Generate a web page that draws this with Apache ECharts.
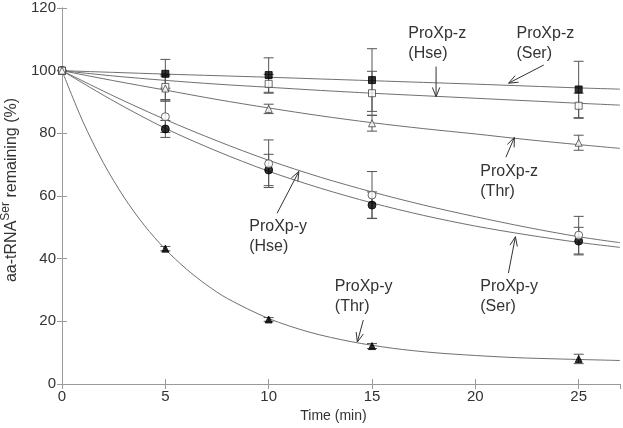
<!DOCTYPE html>
<html>
<head>
<meta charset="utf-8">
<script src="https://cdn.jsdelivr.net/npm/echarts@6/dist/echarts.min.js"></script>
<style>
html,body{margin:0;padding:0;background:#fff;}
#chart{width:623px;height:428px;}
</style>
</head>
<body>
<div id="chart"></div>
<script>
// ---- measured points (time in min, % remaining, ± error) ----
const times = [0, 5, 10, 15, 25];
const serZ = [100, 99.0, 98.6, 97.0, 94.0];
const serZErr = [0, 4.6, 5.5, 10, 9];
const hseZ = [100, 94.8, 95.8, 92.8, 88.8];
const hseZErr = [0, 4.0, 3.0, 7.0, 4.0];
const thrZ = [100, 94.3, 87.8, 83.2, 77.0];
const thrZErr = [0, 4.0, 1.5, 2.5, 2.4];
const hseY = [100, 85.3, 70.3, 60.3, 47.5];
const hseYErr = [0, 5.0, 7.6, 7.5, 6.0];
const serY = [100, 81.4, 68.3, 57.1, 45.6];
const serYErr = [0, 2.7, 5.0, 4.2, 4.4];
const thrY = [100, 43.2, 20.6, 12.1, 8.0];
const thrYErr = [0, 0.7, 0.6, 0.8, 1.5];

// ---- fitted curves ----
const fitT = [0, 2.5, 5, 7.5, 10, 12.5, 15, 17.5, 20, 22.5, 25, 27];
const fitSerZ = [100, 99.45, 98.9, 98.4, 97.9, 97.35, 96.8, 96.25, 95.7, 95.1, 94.5, 94.1];
const fitHseZ = [100, 98.3, 96.9, 95.7, 94.7, 93.7, 92.8, 92.0, 91.2, 90.4, 89.6, 89.0];
const fitThrZ = [100, 96.8, 93.8, 90.8, 88.1, 85.6, 83.4, 81.5, 79.8, 78.0, 76.4, 75.2];
const fitHseY = [100, 91.9, 84.4, 77.6, 71.4, 66.0, 61.3, 57.1, 53.4, 50.0, 47.0, 45.1];
const fitSerY = [100, 90.3, 81.6, 74.3, 67.9, 62.5, 57.8, 53.8, 50.4, 47.6, 45.2, 43.6];
const fitThrYT = [0, 1, 2, 3, 4, 5, 6, 7, 8, 10, 12, 14, 16, 18, 20, 22, 24, 27];
const fitThrY = [100, 83.9, 70.6, 59.6, 50.5, 43.0, 36.8, 31.6, 27.3, 20.9, 16.5, 13.5, 11.4, 10.0, 9.1, 8.4, 8.0, 7.5];

// ---- axis ticks ----
const xTicks = [0, 5, 10, 15, 20, 25];
const yTicks = [0, 20, 40, 60, 80, 100, 120];

// ---- annotations (label anchor, arrow start, arrow tip in data units) ----
const annTexts = ['ProXp-z\n(Hse)', 'ProXp-z\n(Ser)', 'ProXp-z\n(Thr)', 'ProXp-y\n(Hse)', 'ProXp-y\n(Ser)', 'ProXp-y\n(Thr)'];
const annLabelPos = [[16.76, 108.5], [21.99, 108.5], [20.24, 64.5], [9.06, 47.2], [20.24, 27.8], [13.2, 27.8]];
const annArrowStart = [[18.1, 101.3], [23.31, 101.8], [21.48, 72.4], [10.41, 54.5], [21.6, 35.4], [14.58, 20.4]];
const annArrowTip = [[18.1, 91.7], [21.61, 96.0], [21.89, 78.7], [11.46, 67.8], [21.94, 47.0], [14.29, 13.4]];

const FONT = '"Liberation Sans", Arial, Helvetica, sans-serif';
const AXIS_COLOR = '#9a9a9a';
const TEXT_COLOR = '#333';

function pts(xs, ys) { return xs.map((x, i) => [x, ys[i]]); }
function errPts(xs, ys, es) { return xs.map((x, i) => [x, ys[i], es[i]]); }

function fitSeries(xs, ys) {
  return {
    type: 'line', data: pts(xs, ys), showSymbol: false, smooth: 0.3,
    lineStyle: { color: '#707070', width: 1 }, silent: true, z: 2, animation: false
  };
}
function markerSeries(ys, symbol, filled, size) {
  return {
    type: 'scatter', data: pts(times, ys), symbol: symbol, symbolSize: size || 7,
    itemStyle: { color: filled ? '#000' : '#fff', borderColor: filled ? '#000' : '#444', borderWidth: 1 },
    z: 5, animation: false
  };
}
function errorSeries(ys, es) {
  return {
    type: 'custom', data: errPts(times, ys, es), z: 3, animation: false, silent: true,
    renderItem: function (params, api) {
      const t = api.value(0), v = api.value(1), e = api.value(2);
      if (!e) return null;
      const hi = api.coord([t, v + e]);
      const lo = api.coord([t, v - e]);
      const w = 5;
      const st = { stroke: '#555', lineWidth: 1 };
      return {
        type: 'group', children: [
          { type: 'line', shape: { x1: hi[0], y1: hi[1], x2: lo[0], y2: lo[1] }, style: st },
          { type: 'line', shape: { x1: hi[0] - w, y1: hi[1], x2: hi[0] + w, y2: hi[1] }, style: st },
          { type: 'line', shape: { x1: lo[0] - w, y1: lo[1], x2: lo[0] + w, y2: lo[1] }, style: st }
        ]
      };
    }
  };
}

const annData = annTexts.map((_, i) => [annLabelPos[i][0], annLabelPos[i][1], annArrowStart[i][0], annArrowStart[i][1], annArrowTip[i][0], annArrowTip[i][1]]);

const annSeries = {
  type: 'custom', data: annData, z: 6, animation: false, silent: true, clip: false,
  renderItem: function (params, api) {
    const i = params.dataIndex;
    const p = api.coord([api.value(0), api.value(1)]);
    const s = api.coord([api.value(2), api.value(3)]);
    const e = api.coord([api.value(4), api.value(5)]);
    const ang = Math.atan2(e[1] - s[1], e[0] - s[0]);
    const L = 10, h = 0.38;
    const a1 = [e[0] - L * Math.cos(ang - h), e[1] - L * Math.sin(ang - h)];
    const a2 = [e[0] - L * Math.cos(ang + h), e[1] - L * Math.sin(ang + h)];
    const st = { stroke: '#333', lineWidth: 1, fill: null };
    return {
      type: 'group', children: [
        { type: 'text', style: { x: p[0], y: p[1], text: annTexts[i], fill: TEXT_COLOR, fontSize: 16, fontFamily: FONT, align: 'left', verticalAlign: 'middle', lineHeight: 20 } },
        { type: 'line', shape: { x1: s[0], y1: s[1], x2: e[0], y2: e[1] }, style: st },
        { type: 'polyline', shape: { points: [a1, e, a2] }, style: st }
      ]
    };
  }
};

const baseAxisLine = { show: true, lineStyle: { color: AXIS_COLOR, width: 1 } };
const tickStyle = { show: true, inside: true, length: 5, lineStyle: { color: AXIS_COLOR } };

const option = {
  animation: false,
  backgroundColor: '#fff',
  grid: { left: 62, right: 3, top: 8, bottom: 44, containLabel: false, outerBoundsMode: 'none' },
  xAxis: [
    {
      type: 'value', min: 0, max: 27, interval: 5, position: 'bottom',
      axisLine: baseAxisLine, axisTick: tickStyle, splitLine: { show: false },
      axisLabel: {
        color: TEXT_COLOR, fontSize: 15, fontFamily: FONT, margin: 5, showMaxLabel: false,
        formatter: function (v) { return xTicks.indexOf(v) >= 0 ? String(v) : ''; }
      },
      name: 'Time (min)', nameLocation: 'middle', nameGap: 21,
      nameTextStyle: { color: TEXT_COLOR, fontSize: 14, fontFamily: FONT, padding: [0, 15, 0, 0] }
    },
    {
      type: 'value', min: 0, max: 27, interval: 5, position: 'top',
      axisLine: baseAxisLine, axisTick: tickStyle, splitLine: { show: false }, axisLabel: { show: false }
    }
  ],
  yAxis: [
    {
      type: 'value', min: 0, max: 120, interval: 20, position: 'left',
      axisLine: baseAxisLine, axisTick: tickStyle, splitLine: { show: false },
      axisLabel: {
        color: TEXT_COLOR, fontSize: 15, fontFamily: FONT, margin: 6,
        formatter: function (v) { return yTicks.indexOf(v) >= 0 ? String(v) : ''; }
      },
      name: '{a|aa-tRNA}{s|Ser}{a| remaining (%)}', nameLocation: 'middle', nameGap: 31,
      nameTextStyle: {
        color: TEXT_COLOR, fontFamily: FONT, padding: [0, 0, 0, 12],
        rich: {
          a: { fontSize: 16, fontFamily: FONT, color: TEXT_COLOR, lineHeight: 24, verticalAlign: 'middle' },
          s: { fontSize: 12, fontFamily: FONT, color: TEXT_COLOR, lineHeight: 10, verticalAlign: 'top' }
        }
      }
    },
    {
      type: 'value', min: 0, max: 120, interval: 20, position: 'right',
      axisLine: baseAxisLine, axisTick: tickStyle, splitLine: { show: false }, axisLabel: { show: false }
    }
  ],
  series: [
    fitSeries(fitT, fitSerZ),
    fitSeries(fitT, fitHseZ),
    fitSeries(fitT, fitThrZ),
    fitSeries(fitT, fitHseY),
    fitSeries(fitT, fitSerY),
    fitSeries(fitThrYT, fitThrY),
    errorSeries(serZ, serZErr),
    errorSeries(hseZ, hseZErr),
    errorSeries(thrZ, thrZErr),
    errorSeries(hseY, hseYErr),
    errorSeries(serY, serYErr),
    errorSeries(thrY, thrYErr),
    markerSeries(serZ, 'rect', true, 7),
    markerSeries(serY, 'circle', true, 8),
    markerSeries(thrY, 'triangle', true, 7),
    markerSeries(hseY, 'circle', false, 8),
    markerSeries(hseZ, 'rect', false, 7),
    markerSeries(thrZ, 'triangle', false, 7),
    annSeries
  ]
};

const chart = echarts.init(document.getElementById('chart'), null, { renderer: 'canvas' });
chart.setOption(option);
</script>
</body>
</html>
